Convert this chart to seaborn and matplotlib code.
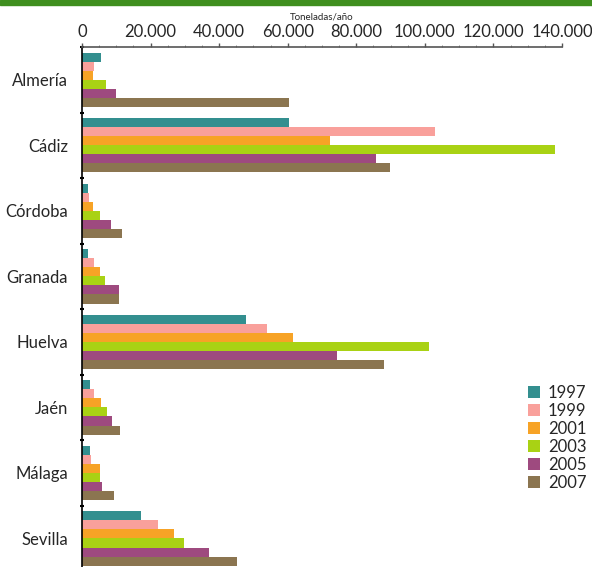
import pandas as pd
import seaborn as sns
import matplotlib.pyplot as plt
from matplotlib.patches import Rectangle

# Toneladas/año por provincia
provincias = ["Almería", "Cádiz", "Córdoba", "Granada", "Huelva", "Jaén", "Málaga", "Sevilla"]
anios = ["1997", "1999", "2001", "2003", "2005", "2007"]
v1997 = [5500, 60500, 1700, 1700, 47700, 2400, 2400, 17300]
v1999 = [3500, 103000, 2000, 3500, 54100, 3500, 2700, 22200]
v2001 = [3200, 72200, 3200, 5200, 61400, 5600, 5200, 26900]
v2003 = [7000, 138000, 5200, 6800, 101200, 7200, 5200, 29800]
v2005 = [10000, 85700, 8400, 10800, 74300, 8800, 5900, 36900]
v2007 = [60500, 89800, 11700, 10800, 88000, 11200, 9300, 45300]
colores = ["#338f8f", "#f9a09b", "#f7a326", "#a9d214", "#9e4a7f", "#8b7550"]

xticks = [0, 20000, 40000, 60000, 80000, 100000, 120000, 140000]
xlabels = ["0", "20.000", "40.000", "60.000", "80.000", "100.000", "120.000", "140.000"]

series = [v1997, v1999, v2001, v2003, v2005, v2007]
df = pd.DataFrame({
    "provincia": provincias * len(anios),
    "anio": [a for a in anios for _ in provincias],
    "toneladas": [v for s in series for v in s],
})

sns.set_theme(style="white")
plt.rcParams["font.family"] = ["Lato", "DejaVu Sans"]

fig = plt.figure(figsize=(5.92, 5.67), dpi=100)
ax = fig.add_axes([82 / 592, 0, 480 / 592, 520 / 567])

sns.barplot(data=df, y="provincia", x="toneladas", hue="anio", order=provincias,
            hue_order=anios, palette=colores, orient="h", width=0.83,
            saturation=1, linewidth=0, ax=ax)

ax.set_xlim(0, 140000)
ax.set_ylim(7.435, -0.5)
ax.xaxis.tick_top()
ax.xaxis.set_label_position("top")
ax.set_xticks(xticks)
ax.set_xticklabels(xlabels, fontsize=12)
ax.set_xticks(range(0, 140001, 5000), minor=True)
ax.tick_params(axis="x", which="major", length=3, width=1, color="#555555", pad=2, top=True)
ax.tick_params(axis="x", which="minor", length=1.5, width=0.6, color="#777777", top=True)
ax.set_xlabel("Toneladas/año", fontsize=7, labelpad=3)
ax.set_ylabel("")

ax.set_yticks(range(len(provincias)))
ax.set_yticklabels(provincias, fontsize=12)
ax.set_yticks([i - 0.5 for i in range(len(provincias))], minor=True)
ax.tick_params(axis="y", which="major", length=0, pad=10)
ax.tick_params(axis="y", which="minor", length=3, width=1.5, color="black", left=True, direction="inout")

for s in ["right", "bottom"]:
    ax.spines[s].set_visible(False)
ax.spines["top"].set_color("#555555")
ax.spines["top"].set_linewidth(1.2)
ax.spines["left"].set_color("black")
ax.spines["left"].set_linewidth(1.2)

leg = ax.legend(title=None, frameon=False, fontsize=12, loc="upper left",
                bbox_to_anchor=(513 / 592, 1 - 370 / 567), bbox_transform=fig.transFigure,
                handlelength=0.7, handleheight=0.7, handletextpad=0.5, labelspacing=0.12)

# franja verde superior
fig.patches.append(Rectangle((0, 1 - 5 / 567), 1, 5 / 567, transform=fig.transFigure,
                             color="#3f8f1f", zorder=0))

fig.savefig("out.png", dpi=100)
